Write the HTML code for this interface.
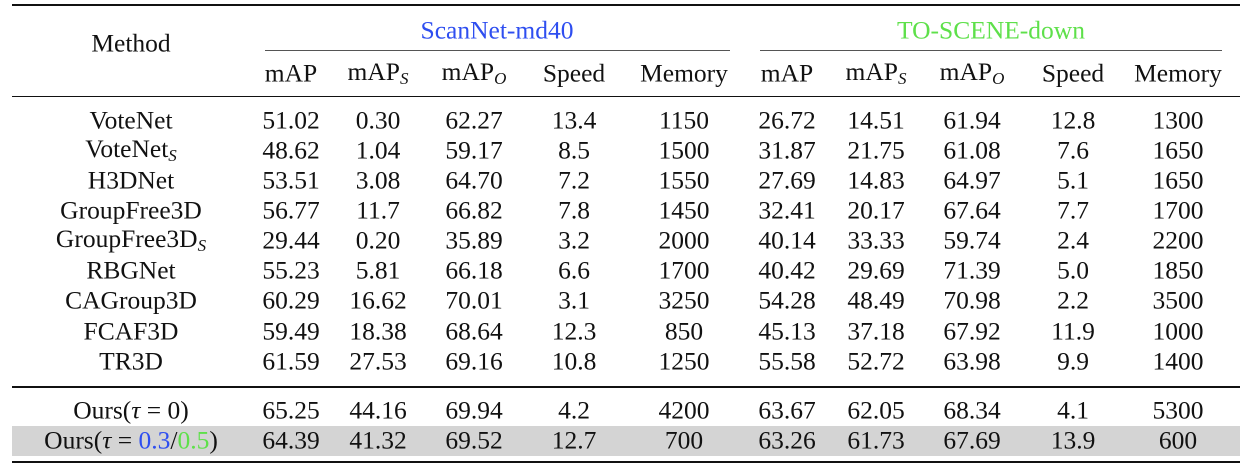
<!DOCTYPE html>
<html><head><meta charset="utf-8"><style>
body{margin:0;width:1250px;height:469px;background:#fff;position:relative;overflow:hidden;font-family:"Liberation Serif",serif;color:#111;}
.r{position:absolute;left:12px;width:1228px;background:#111;}
.c{position:absolute;white-space:nowrap;transform:translate(-50%,-50%);font-size:25.5px;line-height:1;}
sub{font-style:italic;font-size:17px;vertical-align:-4px;}
</style></head><body>
<div class="r" style="top:4px;height:2px"></div>
<div class="r" style="top:50px;height:1px;left:265px;width:465px;background:#555"></div>
<div class="r" style="top:50px;height:1px;left:760px;width:462px;background:#555"></div>
<div class="r" style="top:96px;height:1px"></div>
<div class="r" style="top:386px;height:2px"></div>
<div class="r" style="top:426px;height:30px;background:#d4d4d4"></div>
<div class="r" style="top:461px;height:2px"></div>
<div class="c" style="left:131px;top:43px">Method</div>
<div class="c" style="left:497px;top:30px;color:#2e4ef0">ScanNet-md40</div>
<div class="c" style="left:991px;top:30px;color:#5ee04a">TO-SCENE-down</div>
<div id="t"></div>
<script>
const colX=[131,291,378,474,574,684,787,876,972,1073,1178];
const heads=['mAP','mAP<sub>S</sub>','mAP<sub>O</sub>','Speed','Memory'];
const methods=['VoteNet','VoteNet<sub>S</sub>','H3DNet','GroupFree3D','GroupFree3D<sub>S</sub>','RBGNet','CAGroup3D','FCAF3D','TR3D','Ours(<i>τ</i> = 0)','Ours(<i>τ</i> = <span style="color:#2e4ef0">0.3</span>/<span style="color:#5ee04a">0.5</span>)'];
const rows=[
['51.02','0.30','62.27','13.4','1150','26.72','14.51','61.94','12.8','1300'],
['48.62','1.04','59.17','8.5','1500','31.87','21.75','61.08','7.6','1650'],
['53.51','3.08','64.70','7.2','1550','27.69','14.83','64.97','5.1','1650'],
['56.77','11.7','66.82','7.8','1450','32.41','20.17','67.64','7.7','1700'],
['29.44','0.20','35.89','3.2','2000','40.14','33.33','59.74','2.4','2200'],
['55.23','5.81','66.18','6.6','1700','40.42','29.69','71.39','5.0','1850'],
['60.29','16.62','70.01','3.1','3250','54.28','48.49','70.98','2.2','3500'],
['59.49','18.38','68.64','12.3','850','45.13','37.18','67.92','11.9','1000'],
['61.59','27.53','69.16','10.8','1250','55.58','52.72','63.98','9.9','1400'],
['65.25','44.16','69.94','4.2','4200','63.67','62.05','68.34','4.1','5300'],
['64.39','41.32','69.52','12.7','700','63.26','61.73','67.69','13.9','600']];
const rowY=[120,150,180,210,240,270,300,331,361,410,440];
const t=document.getElementById('t');
function cell(x,y,html,name){const d=document.createElement('div');d.className='c';d.style.left=x+'px';d.style.top=y+'px';d.innerHTML=html;


t.appendChild(d);}
for(let g=0;g<2;g++)for(let k=0;k<5;k++)cell(colX[1+g*5+k],73,heads[k],'column-header');
rows.forEach((r,i)=>{cell(colX[0],rowY[i],methods[i],'method-name');r.forEach((v,j)=>cell(colX[j+1],rowY[i],v,'value-cell'));});
</script>
</body></html>
